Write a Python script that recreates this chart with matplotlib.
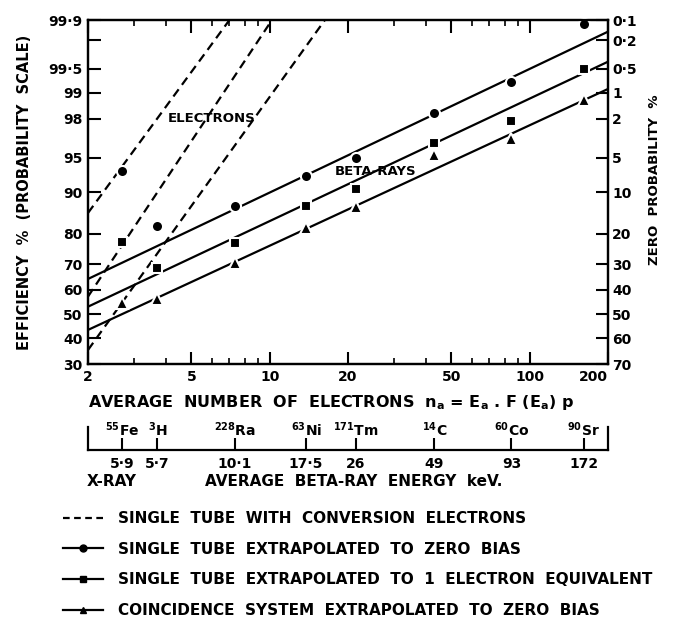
import numpy as np
import matplotlib
matplotlib.use('Agg')
from matplotlib import pyplot as plt
from matplotlib.lines import Line2D
from statistics import NormalDist

plt.rcParams['font.family'] = 'DejaVu Sans'
plt.rcParams['font.weight'] = 'bold'
plt.rcParams['axes.labelweight'] = 'bold'
plt.rcParams['mathtext.default'] = 'bf'

# isotope positions on the electron-number axis
iso_x = [2.7, 3.7, 7.35, 13.8, 21.4, 43, 85, 161]
iso_names = [r'$^{55}$Fe', r'$^{3}$H', r'$^{228}$Ra', r'$^{63}$Ni',
             r'$^{171}$Tm', r'$^{14}$C', r'$^{60}$Co', r'$^{90}$Sr']
energies = ['5·9', '5·7', '10·1', '17·5', '26', '49', '93', '172']

# measured efficiencies (%)
zero_bias = [93.4, 82.3, 87.2, 92.7, 94.95, 98.27, 99.26, 99.885]
one_elec = [77.6, 68.7, 77.3, 87.2, 90.6, 96.4, 97.9, 99.5]
coinc = [54.7, 56.3, 70.4, 81.7, 87.0, 95.3, 96.7, 98.78]

# fitted lines, (x ends, y ends)
beta_x = [2, 200]
beta_zero = [64.4, 99.85]
beta_one = [53.1, 99.6]
beta_coinc = [43.4, 99.1]
elec_lines = [([2, 7.0], [85.6, 99.9]),
              ([2, 10.2], [57.3, 99.9]),
              ([2, 16.3], [35.3, 99.9])]

eff_ticks = [99.9, 99.8, 99.5, 99, 98, 95, 90, 80, 70, 60, 50, 40, 30]
eff_labels = ['99·9', '', '99·5', '99', '98', '95', '90', '80', '70', '60',
              '50', '40', '30']
zero_ticks = [0.1, 0.2, 0.5, 1, 2, 5, 10, 20, 30, 40, 50, 60, 70]
zero_labels = ['0·1', '0·2', '0·5', '1', '2', '5', '10', '20', '30', '40',
               '50', '60', '70']
x_major = [2, 5, 10, 20, 50, 100, 200]
x_minor = [3, 4, 6, 7, 8, 9, 30, 40, 60, 70, 80, 90]

nd = NormalDist()


def prob_fwd(p):
    q = np.clip(np.asarray(p, dtype=float) / 100.0, 1e-9, 1 - 1e-9)
    out = [nd.inv_cdf(v) if np.isfinite(v) else np.nan for v in q.ravel()]
    return np.array(out).reshape(q.shape)


def prob_inv(z):
    z = np.asarray(z, dtype=float)
    out = [nd.cdf(v) * 100 if np.isfinite(v) else np.nan for v in z.ravel()]
    return np.array(out).reshape(z.shape)


W, H = 687, 626
fig = plt.figure(figsize=(W / 100, H / 100), dpi=100)
ax = fig.add_axes([88 / W, 1 - 364 / H, 520 / W, 344 / H])
ax.set_xscale('log')
ax.set_yscale('function', functions=(prob_fwd, prob_inv))
ax.set_xlim(2, 200)
ax.set_ylim(30, 99.9)

lw = 1.6
for xs, ys in elec_lines:
    ax.plot(xs, ys, color='k', lw=lw, ls='--', dashes=(4, 2.5))
ax.plot(beta_x, beta_zero, color='k', lw=lw)
ax.plot(beta_x, beta_one, color='k', lw=lw)
ax.plot(beta_x, beta_coinc, color='k', lw=lw)

mk = dict(ls='none', color='k', markeredgecolor='white', markeredgewidth=1.5,
          zorder=5, clip_on=False)
ax.plot(iso_x, zero_bias, marker='o', markersize=8, **mk)
ax.plot(iso_x, one_elec, marker='s', markersize=7, **mk)
ax.plot(iso_x, coinc, marker='^', markersize=8, **mk)

ax.text(6.0, 98.0, 'ELECTRONS', fontsize=9.5, ha='center', va='center')
ax.text(25.5, 93.3, 'BETA-RAYS', fontsize=9.5, ha='center', va='center')

ax.set_yticks(eff_ticks, labels=eff_labels)
ax.yaxis.set_minor_locator(plt.NullLocator())
ax.set_xticks(x_major, labels=[str(v) for v in x_major])
ax.set_xticks(x_minor, minor=True)
ax.tick_params(axis='both', which='major', direction='in', length=9,
               width=1.5, labelsize=10, top=True, pad=4)
ax.tick_params(axis='x', which='minor', direction='in', length=4, width=1.2,
               top=True)
ax.get_xticklabels()[-1].set_horizontalalignment('right')
for s in ax.spines.values():
    s.set_linewidth(1.6)
ax.set_ylabel('EFFICIENCY  %  (PROBABILITY  SCALE)', fontsize=10.5,
              labelpad=12)

ax2 = ax.twinx()
ax2.set_yscale('function', functions=(prob_fwd, prob_inv))
ax2.set_ylim(30, 99.9)
ax2.set_yticks([100 - v for v in zero_ticks], labels=zero_labels)
ax2.yaxis.set_minor_locator(plt.NullLocator())
ax2.tick_params(axis='y', direction='in', length=9, width=1.5,
                labelsize=10, pad=3)
for s in ax2.spines.values():
    s.set_linewidth(1.6)

fig.text(655 / W, 1 - 180 / H, 'ZERO  PROBABILITY  %', rotation=90,
         fontsize=9.5, ha='center', va='center')

fig.text(88 / W, 1 - 402 / H,
         r'AVERAGE  NUMBER  OF  ELECTRONS  $n_a$ = $E_a$ . F ($E_a$) p',
         fontsize=11.5, ha='left', va='center')

# energy bracket scale
bax = fig.add_axes([88 / W, 1 - 450 / H, 520 / W, 23 / H])
bax.set_xscale('log')
bax.set_xlim(2, 200)
bax.set_ylim(0, 1)
bax.patch.set_alpha(0)
bax.spines['top'].set_visible(False)
for s in ['left', 'right', 'bottom']:
    bax.spines[s].set_linewidth(1.6)
bax.set_yticks([])
bax.set_xticks(iso_x, labels=energies)
bax.set_xticks([], minor=True)
bax.tick_params(axis='x', direction='in', length=9, width=1.5,
                labelsize=10, pad=5)
for x, name in zip(iso_x, iso_names):
    bax.text(x, 0.62, name, fontsize=10, ha='center', va='baseline',
             transform=bax.get_xaxis_transform())

fig.text(87 / W, 1 - 482 / H, 'X-RAY', fontsize=11, ha='left', va='center')
fig.text(205 / W, 1 - 482 / H, 'AVERAGE  BETA-RAY  ENERGY  keV.',
         fontsize=11, ha='left', va='center')

handles = [
    Line2D([], [], color='k', lw=lw, ls='--', dashes=(3, 2)),
    Line2D([], [], color='k', lw=lw, marker='o', markersize=5),
    Line2D([], [], color='k', lw=lw, marker='s', markersize=4.5),
    Line2D([], [], color='k', lw=lw, marker='^', markersize=5),
]
labels = ['SINGLE  TUBE  WITH  CONVERSION  ELECTRONS',
          'SINGLE  TUBE  EXTRAPOLATED  TO  ZERO  BIAS',
          'SINGLE  TUBE  EXTRAPOLATED  TO  1  ELECTRON  EQUIVALENT',
          'COINCIDENCE  SYSTEM  EXTRAPOLATED  TO  ZERO  BIAS']
fig.legend(handles, labels, loc='upper left',
           bbox_to_anchor=(63 / W, 1 - 511 / H), frameon=False,
           fontsize=11, handlelength=2.6, handletextpad=1.0,
           labelspacing=1.03, borderaxespad=0, borderpad=0)

fig.savefig('out.png', dpi=100, facecolor='white')
